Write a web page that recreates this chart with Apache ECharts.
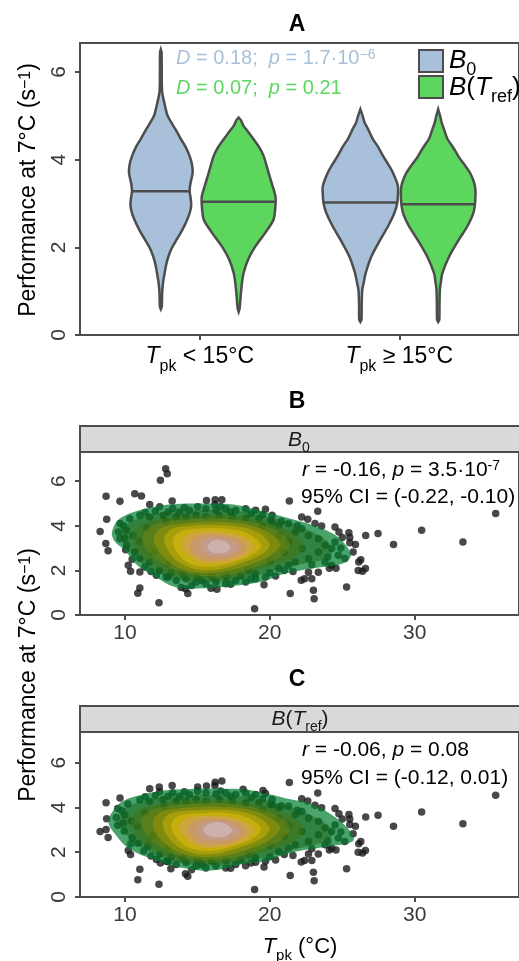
<!DOCTYPE html>
<html>
<head>
<meta charset="utf-8">
<script src="https://cdn.jsdelivr.net/npm/echarts@6/dist/echarts.min.js"></script>
<style>
  html, body { margin: 0; padding: 0; background: #ffffff; }
  #chart { width: 519px; height: 961px; }
</style>
</head>
<body>
<div id="chart"></div>
<script>
// ---------- panel A: violin profiles [performance, relative density] ----------
const violinB0Low = [[0.59,0],[0.65,0.025],[0.96,0.035],[1.2,0.06],[1.41,0.10],[1.6,0.14],[1.79,0.20],[2.0,0.30],[2.18,0.42],[2.37,0.55],[2.56,0.66],[2.75,0.75],[2.94,0.80],[3.1,0.79],[3.28,0.76],[3.45,0.78],[3.7,0.84],[3.9,0.82],[4.08,0.76],[4.28,0.66],[4.47,0.53],[4.7,0.38],[5.0,0.18],[5.23,0.11],[5.38,0.07],[5.54,0.035],[5.8,0.025],[6.45,0.02],[6.51,0]];
const violinTrefLow = [[0.53,0],[0.6,0.025],[0.95,0.06],[1.2,0.09],[1.41,0.13],[1.72,0.25],[2.02,0.44],[2.33,0.70],[2.63,0.92],[2.94,0.97],[3.17,0.97],[3.47,0.87],[3.7,0.79],[4.08,0.66],[4.3,0.53],[4.47,0.39],[4.65,0.24],[4.77,0.13],[4.9,0.06],[4.96,0]];
const violinB0High = [[0.30,0],[0.35,0.03],[0.7,0.035],[1.03,0.05],[1.2,0.09],[1.41,0.14],[1.79,0.29],[2.18,0.53],[2.48,0.73],[2.79,0.90],[3.0,0.97],[3.17,0.99],[3.4,0.99],[3.7,0.86],[3.9,0.73],[4.08,0.60],[4.3,0.46],[4.47,0.33],[4.7,0.20],[4.85,0.11],[5.0,0.06],[5.15,0]];
const violinTrefHigh = [[0.30,0],[0.35,0.03],[0.7,0.035],[1.03,0.045],[1.2,0.07],[1.41,0.11],[1.79,0.29],[2.18,0.55],[2.48,0.77],[2.79,0.93],[3.09,0.98],[3.4,0.97],[3.7,0.84],[3.9,0.68],[4.08,0.53],[4.3,0.38],[4.47,0.245],[4.7,0.15],[4.85,0.09],[5.0,0.05],[5.15,0]];
const mediansB0 = [3.28, 3.02];
const mediansTref = [3.04, 2.98];
const groupTicks = [1, 2];
const groupSigns = ['<', '≥'];
const perfTicks = [0, 2, 4, 6];
const tpkTicks = [10, 20, 30];

// ---------- panels B / C: density contour rings, outer to inner ----------
const contourB0 = [
  [[9.1,3.7],[9.6,4.3],[11,4.7],[13,4.95],[15,5.0],[17.5,4.95],[19.5,4.65],[21.5,4.3],[23.3,3.95],[24.7,3.5],[25.6,2.7],[25,2.3],[23,2.1],[21,1.85],[19.5,1.5],[17.5,1.3],[15.5,1.2],[13.5,1.25],[12,1.75],[10.8,2.25],[10,2.9],[9.3,3.3]],
  [[9.7,3.6],[10.2,4.1],[11.5,4.45],[13.5,4.65],[16,4.71],[18.5,4.6],[20.5,4.3],[22.5,3.85],[24,3.3],[24.3,2.8],[23.5,2.45],[21.5,2.2],[19.5,1.85],[17.5,1.55],[15.5,1.49],[13.5,1.6],[12,2.0],[10.8,2.5],[10,3.1]],
  [[10.5,3.5],[11,4.0],[12.5,4.3],[14.5,4.45],[16.5,4.48],[18.5,4.35],[20.3,4.05],[21.8,3.6],[22.3,3.0],[21.5,2.55],[19.5,2.1],[17.5,1.7],[15.5,1.62],[13.5,1.8],[12,2.25],[11,2.8]],
  [[11.2,3.5],[11.7,3.95],[13,4.2],[15,4.32],[17,4.32],[18.8,4.15],[20.4,3.8],[21.4,3.2],[20.8,2.65],[19.2,2.2],[17.5,1.85],[15.5,1.74],[13.8,1.95],[12.4,2.4],[11.5,2.95]],
  [[12,3.45],[12.5,3.9],[14,4.1],[16,4.18],[18,4.1],[19.6,3.8],[20.7,3.2],[20.1,2.7],[18.6,2.25],[16.8,1.95],[15,1.9],[13.6,2.15],[12.4,2.8]],
  [[12.7,3.4],[13.2,3.85],[14.6,4.0],[16.3,4.04],[18,3.95],[19.3,3.65],[20,3.15],[19.4,2.7],[17.9,2.3],[16.2,2.02],[14.6,2.1],[13.3,2.6]],
  [[13.3,3.35],[13.8,3.75],[15.2,3.88],[16.8,3.88],[18.3,3.7],[19.4,3.15],[18.8,2.7],[17.4,2.35],[16,2.16],[14.5,2.3],[13.6,2.8]],
  [[13.9,3.3],[14.5,3.66],[16,3.74],[17.5,3.65],[18.6,3.35],[18.9,3.0],[18.2,2.6],[16.8,2.34],[15.3,2.35],[14.2,2.8]],
  [[14.5,3.25],[15.1,3.55],[16.4,3.59],[17.7,3.45],[18.4,3.05],[17.8,2.65],[16.5,2.45],[15.2,2.52],[14.6,2.85]],
  [[15.1,3.15],[15.6,3.42],[16.6,3.47],[17.5,3.3],[17.9,3.0],[17.3,2.7],[16.3,2.61],[15.4,2.75]],
  [[15.7,3.1],[16.1,3.33],[16.8,3.32],[17.3,3.05],[16.9,2.8],[16.2,2.77],[15.8,2.9]]
];
const contourTref = [
  [[8.86,3.35],[9.3,3.95],[9.9,4.3],[11.5,4.62],[13,4.78],[14.9,4.84],[16.8,4.83],[18.3,4.8],[19.9,4.6],[21.5,4.35],[22.9,4.15],[24.5,3.57],[25.6,2.9],[25.75,2.5],[24.5,2.3],[22.2,2.08],[20.8,1.85],[19.9,1.62],[18.3,1.48],[16,1.18],[13.8,1.32],[12.2,1.62],[10.3,2.15],[9.4,2.75]],
  [[9.5,3.4],[10,3.95],[11.3,4.3],[13.5,4.5],[16,4.55],[18.5,4.47],[20.5,4.2],[22.5,3.75],[24,3.2],[24.3,2.75],[23.5,2.4],[21.5,2.1],[19.5,1.75],[17.5,1.45],[15.5,1.42],[13.5,1.55],[12,1.95],[10.7,2.4],[9.9,2.95]],
  [[10.4,3.35],[10.9,3.85],[12.4,4.15],[14.5,4.32],[16.5,4.33],[18.5,4.22],[20.3,3.92],[21.8,3.48],[22.3,2.9],[21.5,2.45],[19.5,2.0],[17.5,1.6],[15.5,1.53],[13.5,1.7],[11.9,2.15],[10.9,2.7]],
  [[11.1,3.35],[11.6,3.82],[13,4.06],[15,4.18],[17,4.18],[18.8,4.02],[20.4,3.68],[21.4,3.1],[20.8,2.55],[19.2,2.1],[17.5,1.75],[15.5,1.65],[13.7,1.85],[12.3,2.3],[11.4,2.85]],
  [[11.9,3.3],[12.4,3.76],[14,3.97],[16,4.03],[18,3.96],[19.6,3.68],[20.7,3.1],[20.1,2.6],[18.6,2.15],[16.8,1.83],[15,1.8],[13.5,2.05],[12.3,2.7]],
  [[12.6,3.28],[13.1,3.72],[14.6,3.86],[16.3,3.9],[18,3.82],[19.3,3.53],[20,3.05],[19.4,2.6],[17.9,2.2],[16.2,1.92],[14.5,2.0],[13.2,2.5]],
  [[13.2,3.22],[13.7,3.62],[15.2,3.75],[16.8,3.76],[18.3,3.58],[19.4,3.05],[18.8,2.6],[17.4,2.25],[16,2.06],[14.4,2.2],[13.5,2.7]],
  [[13.8,3.18],[14.4,3.54],[16,3.62],[17.5,3.53],[18.6,3.23],[18.9,2.9],[18.2,2.5],[16.8,2.24],[15.2,2.24],[14.1,2.68]],
  [[14.4,3.13],[15,3.45],[16.4,3.5],[17.7,3.35],[18.4,2.95],[17.8,2.55],[16.5,2.36],[15.1,2.42],[14.5,2.75]],
  [[15,3.05],[15.5,3.33],[16.6,3.38],[17.5,3.2],[17.9,2.9],[17.3,2.6],[16.3,2.52],[15.3,2.65]],
  [[15.4,3.0],[15.9,3.28],[16.8,3.3],[17.4,3.0],[17,2.72],[16.2,2.68],[15.6,2.8]]
];

// ---------- panels B / C: species points [T_pk, performance] ----------
const pointsB0 = [
  [12.81,6.56],[12.92,6.34],[12.45,6.04],[8.70,5.32],[9.66,5.10],[10.68,5.44],[11.14,5.34],[13.26,5.11],[15.63,5.13],[16.23,5.17],[16.69,5.17],[16.21,4.96],[11.71,4.95],
  [8.74,4.29],[8.29,3.75],[8.68,3.21],[8.84,2.88],[10.05,2.93],[10.23,2.23],[10.39,1.96],[11.03,1.93],[11.03,1.21],[10.89,0.97],[12.35,0.55],[13.88,1.23],[14.18,1.18],
  [14.34,0.96],[18.95,0.28],[15.94,1.20],[16.35,1.16],[19.6,1.36],
  [21.35,5.11],[23.31,4.65],[22.2,4.39],[22.62,4.29],[23.12,4.10],[23.58,3.99],[24.5,3.95],[24.77,3.72],[25.46,3.69],[25.0,3.48],[25.52,3.48],[25.52,3.24],[25.91,3.16],
  [26.62,3.57],[27.47,3.65],[30.48,3.80],[28.54,3.16],[33.33,3.27],[35.59,4.55],[25.75,2.83],[26.28,2.48],[26.14,2.38],[26.6,2.08],[26.1,2.0],[26.4,1.96],[25.3,1.26],
  [23.01,1.11],[23.06,0.73],[21.41,0.96],[22.17,1.56],[22.4,1.63],[22.9,1.63],[24.11,2.1],[24.57,2.1],[23.35,1.92],[22.67,1.92],
  [12.4,4.85],[12.97,4.62],[13.77,4.62],[14.45,4.70],[15.02,4.85],[15.59,4.77],[16.28,4.70],[16.96,4.77],[17.65,4.70],[18.33,4.77],[19.02,4.70],[19.7,4.74],[20.16,4.47],
  [10.34,4.32],[11.03,4.47],[11.71,4.40],[12.63,4.47],[13.54,4.40],[14.22,4.40],[14.91,4.47],[15.59,4.40],[16.51,4.47],[17.42,4.40],[18.33,4.32],[19.25,4.32],[20.05,4.25],
  [9.66,4.10],[9.55,3.72],[9.66,3.42],[10.11,3.80],[10.57,3.57],[10.11,3.13],[10.68,2.83],[11.03,2.53],[11.37,2.15],[11.71,2.38],
  [12.17,1.78],[12.85,1.70],[13.54,1.55],[14.22,1.63],[14.91,1.48],[15.59,1.40],[16.28,1.48],[16.96,1.40],[17.65,1.55],[18.33,1.48],[19.02,1.63],[19.7,1.70],
  [12.4,2.0],[13.2,1.9],[14,1.85],[15,1.75],[16,1.7],[17,1.72],[18,1.75],[19,1.85],[20,1.9],[21,2.0],
  [20.16,4.17],[20.62,4.02],[21.3,4.10],[21.76,3.72],[22.21,3.87],[22.67,3.57],[23.36,3.42],[23.81,3.13],[24.27,2.98],[24.73,2.68],[25.18,2.53],
  [24.5,3.27],[23.36,2.83],[22.67,2.53],[21.76,2.38],[21.3,2.23],[20.62,2.08],[22.21,2.98],[21.3,3.27],[20.62,3.57],[23.81,2.38],[24.27,2.23],
  [11,3.3],[11.5,3.9],[12,2.8],[12.8,4.2],[19.5,4.0],[20,2.4],[21,2.8],[18.5,2.0],[13,2.3],[19.9,3.3],
  [11.4,4.6],[12.1,4.65],[13.3,4.78],[14.1,4.82],[16.6,4.85],[17.3,4.62],[18.7,4.55],[19.5,4.5],[20.8,4.2],[21.9,4.0],[10.0,3.45],[9.9,4.0],
  [10.5,2.5],[11.8,1.95],[13.0,1.7],[14.6,1.32],[15.3,1.55],[17.3,1.38],[18.7,1.62],[20.4,1.75],[21.6,1.95],[22.9,2.25],[24.0,2.6],[24.9,3.0]
];
const pointsTref = [
  [11.71,4.84],[12.37,4.91],[13.26,4.98],[15.02,4.91],[15.63,4.96],[16.23,5.13],[16.69,5.18],[16.21,4.98],[9.66,4.42],[8.70,4.21],[8.74,3.5],[8.29,2.93],[8.70,3.02],
  [8.84,2.66],[10.23,2.08],[10.39,1.90],[11.03,1.24],[10.89,0.77],[12.35,0.57],[12.45,1.52],[13.17,1.26],[14.18,1.04],[14.34,0.93],[18.95,0.34],[19.6,1.34],[18.16,4.81],[19.53,4.76],
  [21.35,5.11],[23.31,4.65],[22.2,4.39],[22.62,4.29],[23.12,4.10],[23.58,3.99],[24.5,3.95],[24.77,3.72],[25.46,3.69],[25.0,3.48],[25.52,3.48],[25.52,3.24],[25.91,3.16],
  [26.62,3.57],[27.47,3.65],[30.48,3.80],[28.54,3.16],[33.33,3.27],[35.59,4.55],[25.75,2.83],[26.28,2.48],[26.14,2.38],[26.6,2.08],[26.1,2.0],[26.4,1.96],[25.3,1.26],
  [23.01,1.11],[23.06,0.73],[21.41,0.96],[22.17,1.56],[22.4,1.63],[22.9,1.63],[24.11,2.1],[24.57,2.1],[23.35,1.92],[22.67,1.92],
  [12.4,4.7],[12.97,4.5],[13.77,4.5],[14.45,4.58],[15.02,4.72],[15.59,4.65],[16.28,4.6],[16.96,4.66],[17.65,4.58],[18.33,4.65],[19.02,4.58],[19.7,4.62],[20.16,4.36],
  [10.2,4.15],[11.03,4.33],[11.71,4.28],[12.63,4.35],[13.54,4.28],[14.22,4.28],[14.91,4.35],[15.59,4.28],[16.51,4.35],[17.42,4.28],[18.33,4.2],[19.25,4.2],[20.05,4.13],
  [9.5,3.95],[9.4,3.55],[9.5,3.2],[10.0,3.65],[10.45,3.4],[9.95,2.95],[10.5,2.65],[10.9,2.4],[11.3,2.05],[11.6,2.28],
  [12.17,1.68],[12.85,1.6],[13.54,1.45],[14.22,1.53],[14.91,1.38],[15.59,1.3],[16.28,1.38],[16.96,1.3],[17.65,1.45],[18.33,1.4],[19.02,1.55],[19.7,1.6],
  [12.4,1.9],[13.2,1.8],[14,1.75],[15,1.65],[16,1.6],[17,1.62],[18,1.65],[19,1.75],[20,1.8],[21,1.9],
  [20.16,4.12],[20.62,3.97],[21.3,4.05],[21.76,3.67],[22.21,3.82],[22.67,3.52],[23.36,3.37],[23.81,3.08],[24.27,2.93],[24.73,2.63],[25.18,2.48],
  [24.5,3.22],[23.36,2.78],[22.67,2.48],[21.76,2.33],[21.3,2.18],[20.62,2.03],[22.21,2.93],[21.3,3.22],[20.62,3.52],[23.81,2.33],[24.27,2.18],
  [10.9,3.15],[11.4,3.75],[11.9,2.7],[12.7,4.05],[19.5,3.9],[20,2.3],[21,2.7],[18.5,1.9],[13,2.2],[19.9,3.2],
  [11.4,4.48],[12.1,4.53],[13.3,4.66],[14.1,4.7],[16.6,4.73],[17.3,4.5],[18.7,4.43],[19.5,4.38],[20.8,4.08],[21.9,3.88],[9.9,3.3],[9.8,3.85],
  [10.4,2.38],[11.8,1.83],[13.0,1.58],[14.6,1.22],[15.3,1.45],[17.3,1.28],[18.7,1.52],[20.4,1.65],[21.6,1.85],[22.9,2.15],[24.0,2.5],[24.9,2.9]
];

// ---------- styling ----------
const FONT = "'Liberation Sans', Arial, sans-serif";
const INK = '#4d4d4d';
const BLUE = '#a8c0da';
const GREEN = '#5dd65d';
const DODGE = 0.195;
const MAX_HALF = 0.19;
// stacked translucent fills, outer ring first
const contourFills = [
  'rgba(0,125,45,0.71)', 'rgba(26,97,24,0.5)', 'rgba(70,114,15,0.5)', 'rgba(115,132,10,0.5)',
  'rgba(165,152,5,0.5)', 'rgba(210,175,5,0.5)', 'rgba(228,192,20,0.5)', 'rgba(214,156,110,0.5)',
  'rgba(196,144,140,0.5)', 'rgba(192,156,172,0.5)', 'rgba(212,194,204,0.55)'
];

const violins = [
  { x: groupTicks[0] - DODGE, profile: violinB0Low, median: mediansB0[0], fill: BLUE },
  { x: groupTicks[0] + DODGE, profile: violinTrefLow, median: mediansTref[0], fill: GREEN },
  { x: groupTicks[1] - DODGE, profile: violinB0High, median: mediansB0[1], fill: BLUE },
  { x: groupTicks[1] + DODGE, profile: violinTrefHigh, median: mediansTref[1], fill: GREEN }
];

function widthAt(profile, y) {
  for (let i = 1; i < profile.length; i++) {
    const a = profile[i - 1], b = profile[i];
    if (y >= a[0] && y <= b[0]) return a[1] + (b[1] - a[1]) * (y - a[0]) / (b[0] - a[0]);
  }
  return 0;
}

function renderViolin(params, api) {
  const v = violins[params.dataIndex];
  const right = v.profile.map(p => api.coord([v.x + p[1] * MAX_HALF, p[0]]));
  const left = v.profile.slice().reverse().map(p => api.coord([v.x - p[1] * MAX_HALF, p[0]]));
  const half = widthAt(v.profile, v.median) * MAX_HALF;
  const a = api.coord([v.x - half, v.median]);
  const b = api.coord([v.x + half, v.median]);
  return {
    type: 'group',
    children: [
      { type: 'polygon', shape: { points: right.concat(left), smooth: 0.25 },
        style: { fill: v.fill, stroke: INK, lineWidth: 2.5 } },
      { type: 'line', shape: { x1: a[0], y1: a[1], x2: b[0], y2: b[1] },
        style: { stroke: INK, lineWidth: 2.5 } }
    ]
  };
}

function contourRenderer(rings) {
  return function (params, api) {
    const ring = rings[params.dataIndex];
    return {
      type: 'polygon',
      shape: { points: ring.map(p => api.coord(p)), smooth: 0.35 },
      style: { fill: contourFills[params.dataIndex] }
    };
  };
}

const tickLine = { color: INK, width: 2 };
const tickLabel = { fontFamily: FONT, fontSize: 21, color: '#3a3a3a' };

function xAxisFor(gridIndex, min, max, ticks) {
  return {
    gridIndex: gridIndex, type: 'value', min: min, max: max,
    splitLine: { show: false },
    axisLine: { show: true, onZero: false, lineStyle: tickLine },
    axisTick: { customValues: ticks, length: 5, lineStyle: tickLine },
    axisLabel: Object.assign({ customValues: ticks, margin: 8 }, tickLabel)
  };
}
function yAxisFor(gridIndex, max) {
  return {
    gridIndex: gridIndex, type: 'value', min: 0, max: max,
    splitLine: { show: false },
    axisLine: { show: true, onZero: false, lineStyle: tickLine },
    axisTick: { customValues: perfTicks, length: 5, lineStyle: tickLine },
    axisLabel: Object.assign({ customValues: perfTicks, rotate: 90, margin: 10 }, tickLabel)
  };
}

const xA = xAxisFor(0, 0.4, 2.6, groupTicks);
xA.axisLabel.formatter = v => '{i|T}{s|pk}{n| ' + groupSigns[groupTicks.indexOf(v)] + ' 15°C}';
xA.axisLabel.rich = {
  i: { fontFamily: FONT, fontSize: 23, fontStyle: 'italic', color: '#000', lineHeight: 28 },
  n: { fontFamily: FONT, fontSize: 23, color: '#000', lineHeight: 28 },
  s: { fontFamily: FONT, fontSize: 16, color: '#000', verticalAlign: 'bottom', lineHeight: 28, padding: [0, 0, -4, 0] }
};

const black = '#000';
function txt(x, y, text, size, extra, rotation) {
  return {
    type: 'text', x: x, y: y, rotation: rotation || 0, silent: true,
    style: Object.assign({ text: text, fontFamily: FONT, fontSize: size, fill: black, align: 'left', verticalAlign: 'middle' }, extra || {})
  };
}
function richSet(size, color) {
  return {
    i: { fontFamily: FONT, fontSize: size, fontStyle: 'italic', fill: color },
    n: { fontFamily: FONT, fontSize: size, fill: color },
    sup: { fontFamily: FONT, fontSize: Math.round(size * 0.68), fill: color, verticalAlign: 'top' },
    sub: { fontFamily: FONT, fontSize: Math.round(size * 0.68), fill: color, verticalAlign: 'bottom', padding: [0, 0, -5, 0] }
  };
}
const yTitle = '{n|Performance at 7°C (s}{sup|−1}{n|)}';

const graphic = [
  txt(297, 25, 'A', 23, { fontWeight: 'bold', align: 'center' }),
  txt(297, 402, 'B', 23, { fontWeight: 'bold', align: 'center' }),
  txt(297, 680, 'C', 23, { fontWeight: 'bold', align: 'center' }),
  txt(176, 58, '{i|D}{n| = 0.18;  }{i|p}{n| = 1.7·10}{sup|−6}', 20, { rich: richSet(20, BLUE), fill: BLUE }),
  txt(176, 88, '{i|D}{n| = 0.07;  }{i|p}{n| = 0.21}', 20, { rich: richSet(20, GREEN), fill: GREEN }),
  { type: 'rect', shape: { x: 419, y: 50, width: 24, height: 22 }, style: { fill: BLUE, stroke: INK, lineWidth: 2 }, silent: true },
  { type: 'rect', shape: { x: 419, y: 76, width: 24, height: 22 }, style: { fill: GREEN, stroke: INK, lineWidth: 2 }, silent: true },
  txt(449, 61, '{i|B}{sub|0}', 26, { rich: richSet(26, black) }),
  txt(449, 88, '{i|B}{n|(}{i|T}{sub|ref}{n|)}', 26, { rich: richSet(26, black) }),
  txt(29, 190, yTitle, 23, { rich: richSet(23, black), align: 'center' }, Math.PI / 2),
  txt(29, 675, yTitle, 23, { rich: richSet(23, black), align: 'center' }, Math.PI / 2),
  { type: 'rect', shape: { x: 80, y: 426, width: 442, height: 26 }, style: { fill: '#d9d9d9', stroke: INK, lineWidth: 2 }, silent: true },
  { type: 'rect', shape: { x: 80, y: 706, width: 442, height: 26 }, style: { fill: '#d9d9d9', stroke: INK, lineWidth: 2 }, silent: true },
  txt(299, 440, '{i|B}{sub|0}', 21, { rich: richSet(21, '#1a1a1a'), align: 'center' }),
  txt(300, 719, '{i|B}{n|(}{i|T}{sub|ref}{n|)}', 21, { rich: richSet(21, '#1a1a1a'), align: 'center' }),
  txt(302, 470, '{i|r}{n| = -0.16, }{i|p}{n| = 3.5·10}{sup|-7}', 21, { rich: richSet(21, black) }),
  txt(301, 497, '95% CI = (-0.22, -0.10)', 21),
  txt(302, 750, '{i|r}{n| = -0.06, }{i|p}{n| = 0.08}', 21, { rich: richSet(21, black) }),
  txt(301, 778, '95% CI = (-0.12, 0.01)', 21),
  txt(300, 947, '{i|T}{sub|pk}{n| (°C)}', 22, { rich: richSet(22, black), align: 'center' })
];

const chart = echarts.init(document.getElementById('chart'), null, { renderer: 'canvas' });
chart.setOption({
  animation: false,
  backgroundColor: '#ffffff',
  grid: [
    { left: 80, top: 43, width: 442, height: 292, show: true, borderColor: INK, borderWidth: 2 },
    { left: 80, top: 452, width: 442, height: 163, show: true, borderColor: INK, borderWidth: 2 },
    { left: 80, top: 732, width: 442, height: 165, show: true, borderColor: INK, borderWidth: 2 }
  ],
  xAxis: [
    xA,
    xAxisFor(1, 6.9, 37.2, tpkTicks),
    xAxisFor(2, 6.9, 37.2, tpkTicks)
  ],
  yAxis: [yAxisFor(0, 6.66), yAxisFor(1, 7.31), yAxisFor(2, 7.37)],
  series: [
    { type: 'custom', xAxisIndex: 0, yAxisIndex: 0, silent: true, z: 2,
      renderItem: renderViolin, data: violins.map(v => [v.x, v.median]) },
    { type: 'scatter', xAxisIndex: 1, yAxisIndex: 1, silent: true, z: 2,
      symbolSize: 7.5, itemStyle: { color: '#1a1a1a' }, data: pointsB0 },
    { type: 'custom', xAxisIndex: 1, yAxisIndex: 1, silent: true, z: 3, clip: true,
      renderItem: contourRenderer(contourB0), data: contourB0.map(r => r[0]) },
    { type: 'scatter', xAxisIndex: 2, yAxisIndex: 2, silent: true, z: 2,
      symbolSize: 7.5, itemStyle: { color: '#1a1a1a' }, data: pointsTref },
    { type: 'custom', xAxisIndex: 2, yAxisIndex: 2, silent: true, z: 3, clip: true,
      renderItem: contourRenderer(contourTref), data: contourTref.map(r => r[0]) }
  ],
  graphic: graphic
});
</script>
</body>
</html>
